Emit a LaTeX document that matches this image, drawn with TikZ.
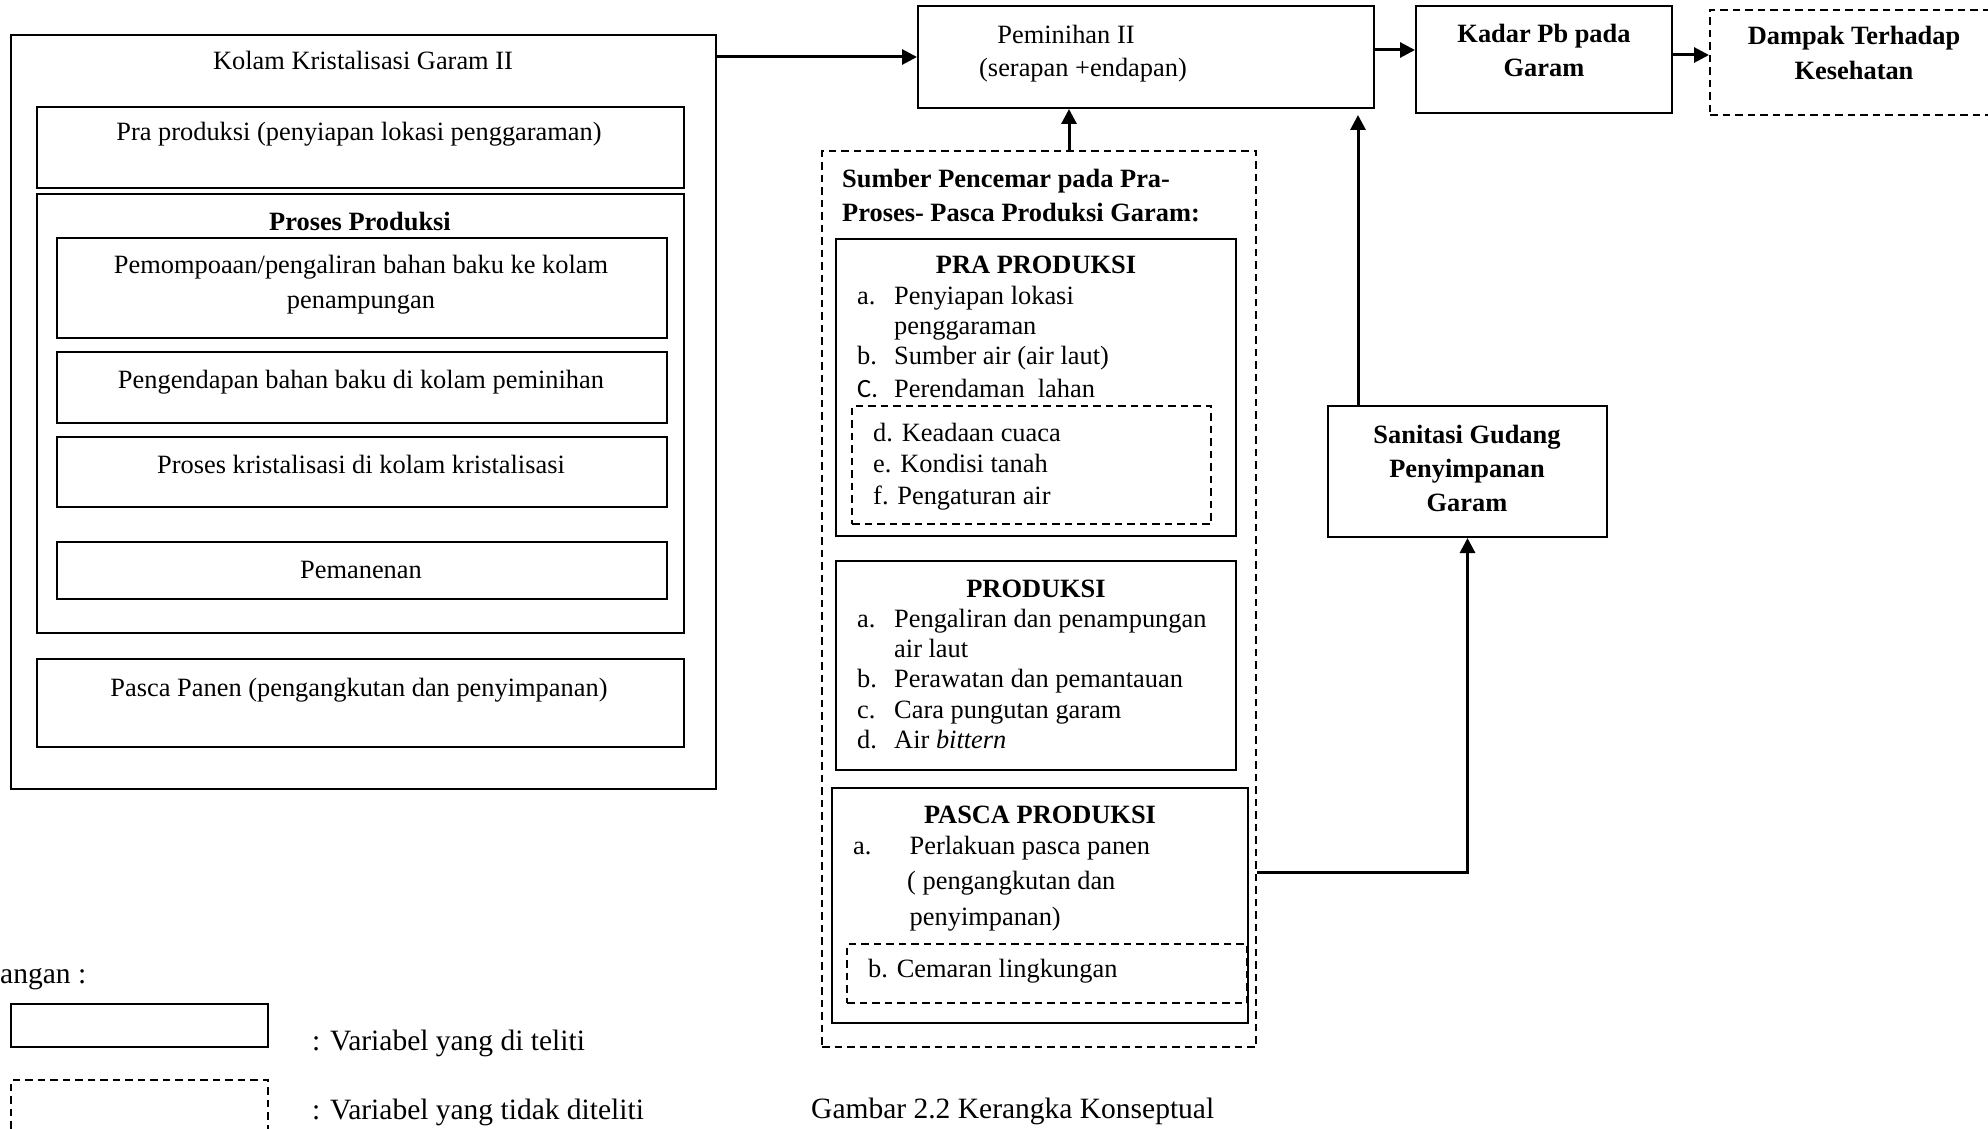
\documentclass[tikz,border=0pt]{standalone}
\usepackage{fontspec}
\setmainfont{Liberation Serif}
\newfontfamily\calib{Carlito}
\usetikzlibrary{arrows.meta,fit}
\begin{document}
\begin{tikzpicture}[x=1pt,y=-1pt,
  box/.style={draw, line width=2pt, inner sep=0pt},
  dbox/.style={box, dash pattern=on 7.5pt off 5pt},
  txt/.style={inner sep=0pt, font=\fontsize{26.4}{30.4}\selectfont},
  btxt/.style={inner sep=0pt, font=\fontsize{26.4}{30.4}\selectfont\bfseries},
  ltxt/.style={inner sep=0pt, font=\fontsize{29.5}{34}\selectfont},
  arr/.style={line width=3pt, -{Triangle[length=15pt,width=15pt]}}]
\useasboundingbox (0,0) rectangle (1988,1129);

% ---- boxes
\node[box, fit={(11,35)(716,789)}] (kolam) {};
\node[box, fit={(37,107)(684,188)}] (prab) {};
\node[box, fit={(37,194)(684,633)}] (prosb) {};
\node[box, fit={(57,238)(667,338)}] (pompb) {};
\node[box, fit={(57,352)(667,423)}] (endapb) {};
\node[box, fit={(57,437)(667,507)}] (kristb) {};
\node[box, fit={(57,542)(667,599)}] (panenb) {};
\node[box, fit={(37,659)(684,747)}] (pascab) {};
\node[box, fit={(918,6)(1374,108)}] (pem) {};
\node[box, fit={(1416,6)(1672,113)}] (kadar) {};
\node[dbox, fit={(1710,10)(2010,115)}] (dampak) {};
\node[dbox, fit={(822,151)(1256,1047)}] (sumber) {};
\node[box, fit={(836,239)(1236,536)}] (prapb) {};
\node[dbox, fit={(852,406)(1211,524)}] (praalt) {};
\node[box, fit={(836,561)(1236,770)}] (produb) {};
\node[box, fit={(832,788)(1248,1023)}] (pascapb) {};
\node[dbox, fit={(847,944)(1247,1003)}] (cemarb) {};
\node[box, fit={(1328,406)(1607,537)}] (sanit) {};
\node[box, fit={(11,1004)(268,1047)}] (legsolid) {};
\node[dbox, fit={(11,1080)(268,1150)}] (legdash) {};

% ---- connectors
\draw[arr] (kolam.east |- pem.west) -- (pem.west);
\draw[arr] ([yshift=7pt]pem.east) -- ([yshift=7pt]pem.east -| kadar.west);
\draw[arr] ([yshift=4.5pt]kadar.east) -- ([yshift=4.5pt]kadar.east -| dampak.west);
\draw[arr] ([xshift=30pt]sumber.north) -- ([xshift=30pt]sumber.north |- pem.south);
\draw[arr, shorten >=6pt] ([xshift=-109.5pt]sanit.north) -- ([xshift=-109.5pt]sanit.north |- pem.south);
\coordinate (tap) at ([yshift=33.5pt]pascapb.east -| sumber.east);
\draw[arr] (tap) -| (sanit.south);

% ---- left column texts
\node[txt, anchor=base] (tkolam) at (363,70) {Kolam Kristalisasi Garam II};
\node[txt, anchor=base] (tpra) at (359,140) {Pra produksi (penyiapan lokasi penggaraman)};
\node[btxt, anchor=base] (tpros) at (360,230) {Proses Produksi};
\node[txt, anchor=base] (tpomp1) at (361,273) {Pemompoaan/pengaliran bahan baku ke kolam};
\node[txt, anchor=base] (tpomp2) at (361,308) {penampungan};
\node[txt, anchor=base] (tendap) at (361,388) {Pengendapan bahan baku di kolam peminihan};
\node[txt, anchor=base] (tkrist) at (361,473) {Proses kristalisasi di kolam kristalisasi};
\node[txt, anchor=base] (tpanen) at (361,578) {Pemanenan};
\node[txt, anchor=base] (tpasca) at (359,696) {Pasca Panen (pengangkutan dan penyimpanan)};

% ---- top row texts
\node[txt, anchor=base] (tpem1) at (1066,44) {Peminihan II};
\node[txt, anchor=base] (tpem2) at (1083,77) {(serapan +endapan)};
\node[btxt, anchor=base] (tkad1) at (1544,43) {Kadar Pb pada};
\node[btxt, anchor=base] (tkad2) at (1544,77) {Garam};
\node[btxt, anchor=base] (tdam1) at (1854,45) {Dampak Terhadap};
\node[btxt, anchor=base] (tdam2) at (1854,80) {Kesehatan};
\node[btxt, anchor=base] (tsan1) at (1467,443) {Sanitasi Gudang};
\node[btxt, anchor=base] (tsan2) at (1467,477) {Penyimpanan};
\node[btxt, anchor=base] (tsan3) at (1467,511) {Garam};

% ---- sumber pencemar texts
\node[btxt, anchor=base west] (tsum1) at (842,187) {Sumber Pencemar pada Pra-};
\node[btxt, anchor=base west] (tsum2) at (842,221) {Proses- Pasca Produksi Garam:};
\node[btxt, anchor=base] (tprap) at (1036,273) {PRA PRODUKSI};
\node[txt, anchor=base west] (lpra) at (857,304) {\begin{tabular}[t]{@{}l@{}l@{}}
\makebox[37pt][l]{a.} & Penyiapan lokasi\\
 & penggaraman\\
\makebox[37pt][l]{b.} & Sumber air (air laut)\\[2pt]
\makebox[37pt][l]{\calib C.} & Perendaman\ \ lahan
\end{tabular}};
\node[txt, anchor=base west, font=\fontsize{26.4}{31.5}\selectfont] (lpra2) at (873,441) {\begin{tabular}[t]{@{}l@{}}
d. Keadaan cuaca\\
e. Kondisi tanah\\
f. Pengaturan air
\end{tabular}};
\node[btxt, anchor=base] (tprod) at (1036,597) {PRODUKSI};
\node[txt, anchor=base west] (lprod) at (857,627) {\begin{tabular}[t]{@{}l@{}l@{}}
\makebox[37pt][l]{a.} & Pengaliran dan penampungan\\
 & air laut\\
\makebox[37pt][l]{b.} & Perawatan dan pemantauan\\
\makebox[37pt][l]{c.} & Cara pungutan garam\\
\makebox[37pt][l]{d.} & Air \textit{bittern}
\end{tabular}};
\node[btxt, anchor=base] (tpascp) at (1040,823) {PASCA PRODUKSI};
\node[txt, anchor=base west] (lpa) at (853,854) {a.};
\node[txt, anchor=base west, font=\fontsize{26.4}{35.5}\selectfont] (lpb) at (907,854) {\begin{tabular}[t]{@{}l@{}}
\hspace*{2.5pt}Perlakuan pasca panen\\
( pengangkutan dan\\
\hspace*{2.5pt}penyimpanan)
\end{tabular}};
\node[txt, anchor=base west] (lcem) at (868,977) {b. Cemaran lingkungan};

% ---- legend and caption
\node[ltxt, anchor=base west] (tket) at (0,983) {angan :};
\node[ltxt, anchor=base west] (tleg1) at (312,1050) {: Variabel yang di teliti};
\node[ltxt, anchor=base west] (tleg2) at (312,1119) {: Variabel yang tidak diteliti};
\node[ltxt, anchor=base west] (tcap) at (811,1118) {Gambar 2.2 Kerangka Konseptual};
\end{tikzpicture}
\end{document}
